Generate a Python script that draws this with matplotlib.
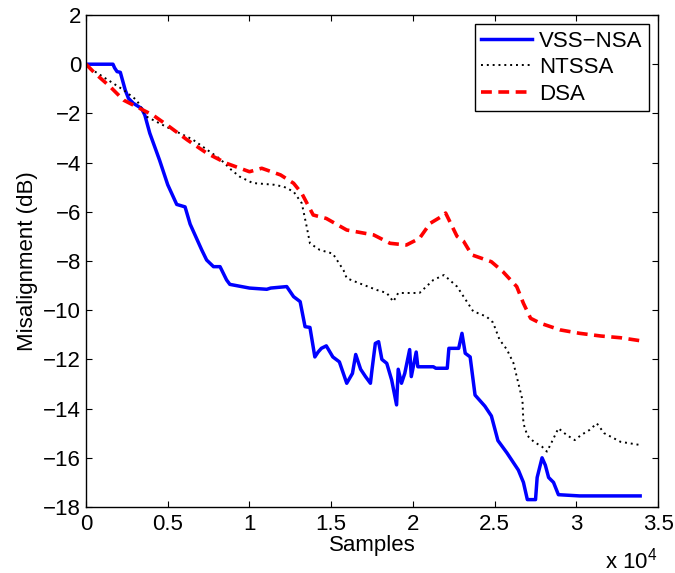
import matplotlib
matplotlib.use("Agg")
import matplotlib.pyplot as plt
from matplotlib.ticker import FuncFormatter

plt.rcParams['font.family'] = ['Liberation Sans', 'DejaVu Sans']
plt.rcParams['font.size'] = 16

# misalignment curves (samples, dB)
vss_x = [0, 1650, 1750, 1900, 2100, 2400, 2600, 2900, 3400, 3600, 3900, 4500, 5000,
         5550, 6060, 6370, 7080, 7380, 7800, 8200, 8600, 8800, 10000, 11060, 11300,
         12280, 12700, 13100, 13400, 13700, 14000, 14200, 14400, 14700, 15100, 15500,
         15950, 16300, 16500, 16800, 17100, 17400, 17500, 17700, 17900, 18100, 18400,
         18700, 19000, 19100, 19300, 19500, 19800, 19900, 20200, 20300, 21250, 21400,
         22100, 22200, 22800, 23000, 23200, 23500, 23800, 24400, 24800, 25200, 25750,
         26450, 26760, 27000, 27500, 27600, 27900, 28100, 28300, 28600, 28900, 30200,
         33900]
vss_y = [0, 0, -0.15, -0.3, -0.33, -1.05, -1.39, -1.59, -1.8, -2.07, -2.8, -3.9, -4.9,
         -5.7, -5.8, -6.5, -7.55, -7.96, -8.23, -8.23, -8.77, -8.95, -9.1, -9.15, -9.1,
         -9.04, -9.45, -9.65, -10.67, -10.7, -11.9, -11.7, -11.55, -11.45, -11.9, -12.1,
         -12.97, -12.57, -11.8, -12.4, -12.7, -12.97, -12.4, -11.35, -11.28, -12.0,
         -12.16, -12.84, -13.85, -12.4, -12.97, -12.57, -11.6, -12.7, -11.7, -12.3,
         -12.3, -12.36, -12.36, -11.55, -11.55, -10.94, -11.75, -11.9, -13.45, -13.9,
         -14.3, -15.3, -15.8, -16.5, -17.0, -17.7, -17.7, -16.8, -16.0, -16.3, -16.8,
         -17.0, -17.5, -17.55, -17.55]

ntssa_x = [0, 200, 2300, 3100, 3700, 4900, 6500, 8200, 8900, 9400, 10200, 11500, 12100,
           12700, 13200, 13500, 13700, 14300, 15100, 15750, 15950, 16700, 17800, 18400,
           18800, 19100, 20400, 21250, 21900, 22700, 23700, 23900, 24500, 24900, 25300,
           25750, 26150, 26450, 26700, 26760, 27000, 27400, 27900, 28200, 28500, 28900,
           29400, 29900, 30300, 30800, 31250, 31700, 32700, 33900]
ntssa_y = [0, -0.15, -1.05, -1.46, -2.13, -2.54, -3.05, -3.85, -4.3, -4.57, -4.83, -4.9,
           -4.98, -5.18, -5.65, -6.6, -7.28, -7.55, -7.7, -8.37, -8.7, -8.9, -9.18,
           -9.3, -9.65, -9.3, -9.3, -8.77, -8.57, -9.04, -10.06, -10.1, -10.26, -10.5,
           -11.2, -11.6, -12.15, -12.97, -13.65, -14.6, -15.1, -15.35, -15.55, -15.75,
           -15.35, -14.8, -15.07, -15.28, -15.07, -14.87, -14.6, -15.0, -15.35, -15.48]

dsa_x = [0, 550, 1470, 2300, 3300, 4100, 5100, 6200, 7400, 8600, 10000, 10750, 11900,
         12700, 13200, 13900, 14700, 15950, 17600, 18600, 19600, 20400, 21050, 21900,
         22000, 22700, 23100, 23600, 24800, 25500, 26350, 26760, 27200, 27800, 29000,
         30200, 31500, 32700, 33900]
dsa_y = [0, -0.37, -0.91, -1.46, -1.8, -2.07, -2.54, -3.08, -3.62, -4.03, -4.37, -4.23,
         -4.5, -4.84, -5.25, -6.13, -6.27, -6.74, -6.94, -7.28, -7.35, -7.08, -6.47,
         -6.13, -6.05, -7.0, -7.2, -7.75, -8.03, -8.43, -9.04, -9.72, -10.33, -10.53,
         -10.8, -10.94, -11.05, -11.12, -11.24]

fig = plt.figure(figsize=(6.75, 5.73), dpi=100)
ax = fig.add_axes([0.1274, 0.1152, 0.8476, 0.8586])

ax.plot(vss_x, vss_y, color='#0000ff', lw=2.5, label='VSS\u2212NSA')
ax.plot(ntssa_x, ntssa_y, color='black', lw=1.4, linestyle=(0, (1, 2)), label='NTSSA')
ax.plot(dsa_x, dsa_y, color='#ff0000', lw=2.6, linestyle=(0, (3, 1.8)), label='DSA')

ax.set_xlim(0, 35000)
ax.set_ylim(-18, 2)
ax.set_xticks([0, 5000, 10000, 15000, 20000, 25000, 30000, 35000])
ax.set_yticks(range(-18, 3, 2))
ax.xaxis.set_major_formatter(FuncFormatter(lambda v, p: '{:g}'.format(v / 1e4)))
ax.tick_params(direction='in', top=True, right=True, length=4, width=0.8)
ax.tick_params(axis='x', pad=5)
for s in ax.spines.values():
    s.set_linewidth(1.0)

ax.set_xlabel('Samples', labelpad=0)
ax.set_ylabel('Misalignment (dB)', labelpad=4)
fig.text(657 / 675, 5 / 573, 'x 10$\\mathregular{^4}$', ha='right', va='baseline')

leg = ax.legend(loc='upper right', fancybox=False, framealpha=1, edgecolor='black',
                handlelength=2.3, handletextpad=0.3, labelspacing=0.25,
                borderpad=0.3, borderaxespad=0.4)
leg.get_frame().set_linewidth(1.0)

fig.savefig('out.png', dpi=100)
